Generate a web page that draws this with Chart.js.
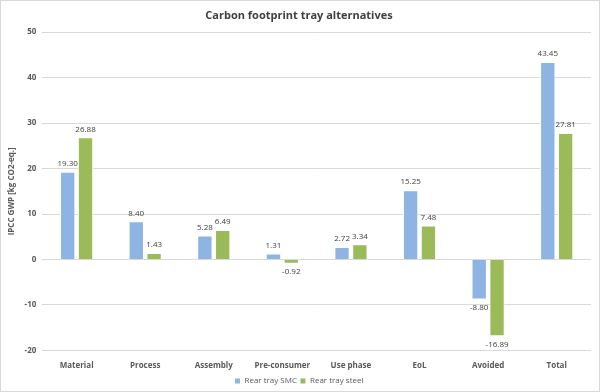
<!DOCTYPE html>
<html>
<head>
<meta charset="utf-8">
<script src="https://cdn.jsdelivr.net/npm/chart.js@4"></script>
<style>
  html, body { margin: 0; padding: 0; background: #fff; }
  #wrap { width: 600px; height: 392px; box-sizing: border-box; border: 1px solid #d9d9d9; }
</style>
</head>
<body>
<div id="wrap"><canvas id="footprintChart"></canvas></div>
<script>
// Carbon footprint per life cycle stage
const stages = ['Material', 'Process', 'Assembly', 'Pre-consumer', 'Use phase', 'EoL', 'Avoided', 'Total'];
const smcValues = [19.30, 8.40, 5.28, 1.31, 2.72, 15.25, -8.80, 43.45];
const steelValues = [26.88, 1.43, 6.49, -0.92, 3.34, 7.48, -16.89, 27.81];
const yTicks = [-20, -10, 0, 10, 20, 30, 40, 50];

const fontFamily = "'Open Sans', 'Liberation Sans', sans-serif";

// draws the value next to each bar
const valueLabels = {
  id: 'valueLabels',
  afterDatasetsDraw(chart) {
    const ctx = chart.ctx;
    ctx.save();
    ctx.font = '8px ' + fontFamily;
    ctx.fillStyle = '#404040';
    ctx.textAlign = 'center';
    chart.data.datasets.forEach((ds, i) => {
      chart.getDatasetMeta(i).data.forEach((bar, j) => {
        const v = ds.data[j];
        if (v >= 0) {
          ctx.textBaseline = 'bottom';
          ctx.fillText(v.toFixed(2), bar.x, bar.y - 4);
        } else {
          ctx.textBaseline = 'top';
          ctx.fillText(v.toFixed(2), bar.x, bar.y + 4);
        }
      });
    });
    ctx.restore();
  }
};

const ctx = document.getElementById('footprintChart').getContext('2d');
new Chart(ctx, {
  type: 'bar',
  data: {
    labels: stages,
    datasets: [
      {
        label: 'Rear tray SMC',
        data: smcValues,
        backgroundColor: '#8db4e2',
        borderColor: '#ffffff',
        borderWidth: 1,
      },
      {
        label: 'Rear tray steel',
        data: steelValues,
        backgroundColor: '#9bbb59',
        borderColor: '#ffffff',
        borderWidth: 1,
      },
    ],
  },
  options: {
    responsive: true,
    maintainAspectRatio: false,
    animation: false,
    categoryPercentage: 0.52,
    barPercentage: 0.86,
    layout: { padding: { left: 6, right: 8, top: 4, bottom: -4 } },
    plugins: {
      title: {
        display: true,
        text: 'Carbon footprint tray alternatives',
        color: '#404040',
        font: { family: fontFamily, size: 11, weight: 'bold' },
        padding: { top: 4, bottom: 10 },
      },
      legend: {
        position: 'bottom',
        labels: {
          color: '#595959',
          font: { family: fontFamily, size: 8 },
          boxWidth: 6,
          boxHeight: 6,
          padding: 3,
        },
      },
      tooltip: { enabled: false },
    },
    scales: {
      x: {
        grid: { display: false },
        border: { display: false },
        ticks: {
          color: '#595959',
          font: { family: fontFamily, size: 8, weight: 'bold' },
          maxRotation: 0,
          padding: 3,
        },
      },
      y: {
        min: yTicks[0],
        max: yTicks[yTicks.length - 1],
        afterBuildTicks(axis) {
          axis.ticks = yTicks.map(v => ({ value: v }));
        },
        grid: { color: '#d9d9d9', drawTicks: false },
        border: { display: false },
        ticks: {
          color: '#595959',
          font: { family: fontFamily, size: 8, weight: 'bold' },
          padding: 6,
        },
        title: {
          display: true,
          text: 'IPCC GWP [kg CO2-eq.]',
          color: '#595959',
          font: { family: fontFamily, size: 8, weight: 'bold' },
          padding: { top: 0, bottom: 2 },
        },
      },
    },
  },
  plugins: [valueLabels],
});
</script>
</body>
</html>
